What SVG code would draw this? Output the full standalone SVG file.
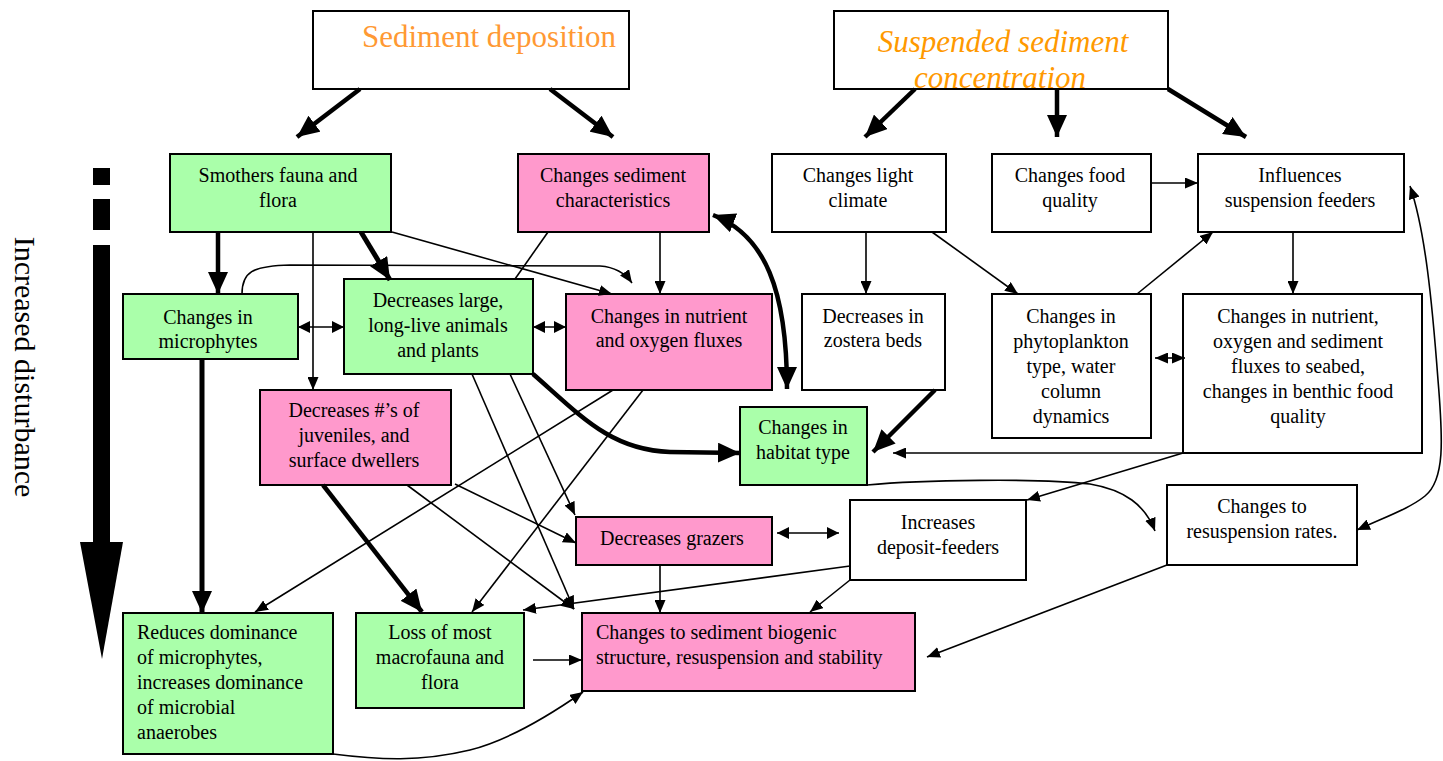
<svg xmlns="http://www.w3.org/2000/svg" width="1443" height="761" viewBox="0 0 1443 761">
<style>
.box{stroke:#000;stroke-width:2}
.w{fill:#fff}.g{fill:#aaffaa}.p{fill:#ff99cc}
text{font-family:"Liberation Serif","Times New Roman",serif;font-size:20px;fill:#000}
.c{text-anchor:middle}
.title{font-size:31px;fill:#ff9933}
.ital{font-size:31px;font-style:italic;fill:#ff9900}
.thin{fill:none;stroke:#000;stroke-width:1.6;marker-end:url(#ah)}
.thick{fill:none;stroke:#000;stroke-width:4.5;marker-end:url(#ahb)}
.dbl{fill:none;stroke:#000;stroke-width:1.6;marker-start:url(#ahm);marker-end:url(#ahm)}
</style>
<defs>
<marker id="ah" markerUnits="userSpaceOnUse" markerWidth="13" markerHeight="11" refX="13" refY="5.5" orient="auto-start-reverse"><path d="M0,0 L13,5.5 L0,11 z" fill="#000"/></marker>
<marker id="ahm" markerUnits="userSpaceOnUse" markerWidth="12" markerHeight="12" refX="12" refY="6" orient="auto-start-reverse"><path d="M0,0 L12,6 L0,12 z" fill="#000"/></marker>
<marker id="ahb" markerUnits="userSpaceOnUse" markerWidth="22" markerHeight="20" refX="22" refY="10" orient="auto-start-reverse"><path d="M0,0 L22,10 L0,20 z" fill="#000"/></marker>
</defs>
<rect width="1443" height="761" fill="#fff"/>

<g id="disturbance">
<rect x="93" y="168" width="17" height="17" fill="#000"/>
<rect x="93" y="199" width="17" height="31" fill="#000"/>
<rect x="93" y="245" width="17" height="299" fill="#000"/>
<polygon points="80,542 123,542 102,659" fill="#000"/>
<text transform="translate(15,367) rotate(90)" class="c" style="font-size:30px">Increased disturbance</text>
</g>

<g id="sediment-deposition"><rect class="box w" x="313" y="11" width="316" height="78"/><text class="title c" x="489" y="47">Sediment deposition</text></g>
<g id="suspended-sediment"><rect class="box w" x="834" y="11" width="334" height="78"/><text class="ital c" x="1003" y="52">Suspended sediment</text><text class="ital c" x="1000" y="88">concentration</text></g>

<g id="smothers"><rect class="box g" x="170" y="154" width="221" height="78"/><text class="c" x="278" y="182">Smothers fauna and</text><text class="c" x="278" y="207">flora</text></g>
<g id="sed-char"><rect class="box p" x="518" y="154" width="191" height="78"/><text class="c" x="613" y="182">Changes sediment</text><text class="c" x="613" y="207">characteristics</text></g>
<g id="light"><rect class="box w" x="772" y="154" width="174" height="78"/><text class="c" x="858" y="182">Changes light</text><text class="c" x="858" y="207">climate</text></g>
<g id="food"><rect class="box w" x="992" y="154" width="159" height="78"/><text class="c" x="1070" y="182">Changes food</text><text class="c" x="1070" y="207">quality</text></g>
<g id="suspension-feeders"><rect class="box w" x="1198" y="154" width="206" height="78"/><text class="c" x="1300" y="182">Influences</text><text class="c" x="1300" y="207">suspension feeders</text></g>

<g id="microphytes"><rect class="box g" x="123" y="294" width="175" height="65"/><text class="c" x="208" y="324">Changes in</text><text class="c" x="208" y="348">microphytes</text></g>
<g id="large-animals"><rect class="box g" x="344" y="279" width="189" height="95"/><text class="c" x="438" y="307">Decreases large,</text><text class="c" x="438" y="332">long-live animals</text><text class="c" x="438" y="357">and plants</text></g>
<g id="nutrient-oxygen"><rect class="box p" x="566" y="294" width="206" height="96"/><text class="c" x="669" y="323">Changes in nutrient</text><text class="c" x="669" y="347">and oxygen fluxes</text></g>
<g id="zostera"><rect class="box w" x="802" y="294" width="143" height="96"/><text class="c" x="873" y="323">Decreases in</text><text class="c" x="873" y="347">zostera beds</text></g>
<g id="phytoplankton"><rect class="box w" x="992" y="294" width="159" height="144"/><text class="c" x="1071" y="323">Changes in</text><text class="c" x="1071" y="348">phytoplankton</text><text class="c" x="1071" y="373">type, water</text><text class="c" x="1071" y="398">column</text><text class="c" x="1071" y="423">dynamics</text></g>
<g id="seabed-fluxes"><rect class="box w" x="1183" y="294" width="239" height="159"/><text class="c" x="1298" y="323">Changes in nutrient,</text><text class="c" x="1298" y="348">oxygen and sediment</text><text class="c" x="1298" y="373">fluxes to seabed,</text><text class="c" x="1298" y="398">changes in benthic food</text><text class="c" x="1298" y="423">quality</text></g>

<g id="juveniles"><rect class="box p" x="260" y="390" width="191" height="95"/><text class="c" x="354" y="417">Decreases #’s of</text><text class="c" x="354" y="442">juveniles, and</text><text class="c" x="354" y="467">surface dwellers</text></g>
<g id="habitat"><rect class="box g" x="740" y="407" width="127" height="78"/><text class="c" x="803" y="434">Changes in</text><text class="c" x="803" y="459">habitat type</text></g>

<g id="grazers"><rect class="box p" x="576" y="517" width="196" height="48"/><text class="c" x="672" y="545">Decreases grazers</text></g>
<g id="deposit-feeders"><rect class="box w" x="850" y="500" width="176" height="80"/><text class="c" x="938" y="529">Increases</text><text class="c" x="938" y="554">deposit-feeders</text></g>
<g id="resuspension"><rect class="box w" x="1167" y="485" width="190" height="80"/><text class="c" x="1262" y="513">Changes to</text><text class="c" x="1262" y="538">resuspension rates.</text></g>

<g id="reduces-dominance"><rect class="box g" x="123" y="613" width="210" height="141"/><text x="137" y="639">Reduces dominance</text><text x="137" y="664">of microphytes,</text><text x="137" y="689">increases dominance</text><text x="137" y="714">of microbial</text><text x="137" y="739">anaerobes</text></g>
<g id="loss-macrofauna"><rect class="box g" x="356" y="613" width="168" height="95"/><text class="c" x="440" y="639">Loss of most</text><text class="c" x="440" y="664">macrofauna and</text><text class="c" x="440" y="689">flora</text></g>
<g id="biogenic"><rect class="box p" x="582" y="613" width="333" height="78"/><text x="596" y="639">Changes to sediment biogenic</text><text x="596" y="664">structure, resuspension and stability</text></g>

<g id="connectors">
<path class="thick" d="M360,89 L297,137"/>
<path class="thick" d="M550,89 L613,137"/>
<path class="thick" d="M915,89 L865,137"/>
<path class="thick" d="M1057,89 L1057,137"/>
<path class="thick" d="M1168,89 L1246,137"/>
<path class="thick" d="M218,232 L218,294"/>
<path class="thick" d="M361,232 L390,280" style="stroke-width:5"/>
<path class="thick" d="M713,215 C765,235 787,290 787,389" style="marker-start:url(#ahb)"/>
<path class="thick" d="M202,359 L202,613" style="stroke-width:5"/>
<path class="thick" d="M533,374 C580,415 610,450 670,452 L740,453"/>
<path class="thick" d="M323,485 L422,612"/>
<path class="thick" d="M935,390 L873,452"/>

<path class="thin" d="M313,232 L313,390"/>
<path class="thin" d="M392,232 L612,294"/>
<path class="thin" d="M242,294 C242,272 252,266 290,265 L600,266 C614,267 625,273 632,283"/>
<path fill="none" stroke="#000" stroke-width="1.6" d="M548,232 L515,279"/>
<path class="thin" d="M660,232 L660,294"/>
<path class="dbl" d="M298,327 L344,327"/>
<path class="dbl" d="M533,327 L566,327"/>
<path class="thin" d="M472,374 L574,609"/>
<path class="thin" d="M510,374 L575,515"/>
<path class="thin" d="M407,485 L574,609"/>
<path class="thin" d="M455,484 L576,543"/>
<path class="thin" d="M613,390 L255,612"/>
<path class="thin" d="M643,390 L472,612"/>
<path class="thin" d="M850,566 L523,610"/>
<path class="dbl" d="M777,533 L839,533"/>
<path class="thin" d="M660,565 L660,613"/>
<path class="thin" d="M850,580 L810,612"/>
<path class="thin" d="M533,660 L582,660"/>
<path class="thin" d="M333,754 C380,760 420,762 470,750 C510,740 550,715 583,692"/>
<path class="thin" d="M1167,565 L927,657"/>
<path class="thin" d="M866,232 L866,294"/>
<path class="thin" d="M932,232 L1018,294"/>
<path class="thin" d="M1137,294 L1213,232"/>
<path class="thin" d="M1151,183 L1198,183"/>
<path class="thin" d="M1293,232 L1293,294"/>
<path class="dbl" d="M1155,358 L1185,358" style="marker-start:url(#ah);marker-end:url(#ah)"/>
<path class="thin" d="M1183,453 L893,453"/>
<path class="thin" d="M1183,453 L1027,500"/>
<path class="thin" d="M867,485 C920,480 1040,478 1090,484 C1125,490 1145,505 1155,531"/>
<path class="thin" d="M1410,186 C1425,230 1432,300 1438,380 C1443,440 1445,480 1425,496 C1410,508 1390,515 1357,530" style="marker-start:url(#ah)"/>
</g>
</svg>
